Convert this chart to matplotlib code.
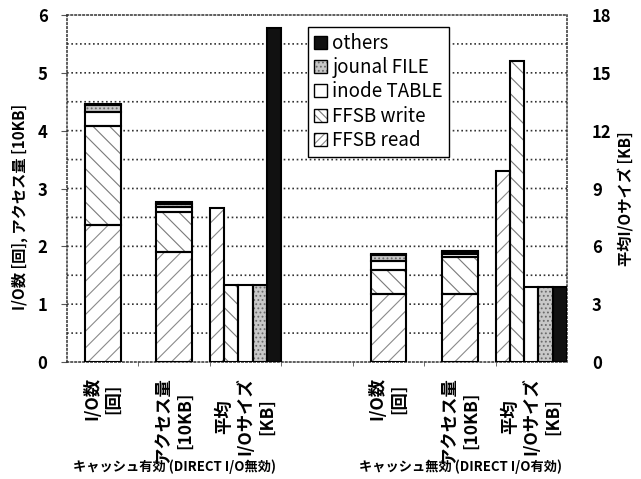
#!/usr/bin/env python3
# -*- coding: utf-8 -*-

"""I/O数, アクセス量 and average I/O size per component,
with and without page cache (DIRECT I/O)"""

import matplotlib
matplotlib.use('Agg')
import numpy as np
import matplotlib.pyplot as plt
from matplotlib.patches import Patch

plt.rcParams['font.family'] = ['Noto Sans CJK JP', 'DejaVu Sans']
plt.rcParams['hatch.linewidth'] = 0.8
plt.rcParams['axes.grid'] = False

# Components, stacked from bottom to top
components = ['FFSB read', 'FFSB write', 'inode TABLE', 'jounal FILE', 'others']

# Category axis: 3 categories per group, one empty slot between groups
categories = ['I/O数\n[回]', 'アクセス量\n[10KB]', '平均\nI/Oサイズ\n[KB]', '',
              'I/O数\n[回]', 'アクセス量\n[10KB]', '平均\nI/Oサイズ\n[KB]']
groups = ['キャッシュ有効 (DIRECT I/O無効)', 'キャッシュ無効 (DIRECT I/O有効)']

# Cache on (DIRECT I/O off)
count_cache_on = [2.37, 1.71, 0.25, 0.11, 0.02]    # [回]
access_cache_on = [1.90, 0.70, 0.08, 0.06, 0.02]   # [10KB]
avgsize_cache_on = [8.0, 4.0, 4.0, 4.0, 17.3]      # [KB]

# Cache off (DIRECT I/O on)
count_cache_off = [1.18, 0.41, 0.16, 0.10, 0.02]
access_cache_off = [1.17, 0.65, 0.04, 0.04, 0.02]
avgsize_cache_off = [9.9, 15.6, 3.9, 3.9, 3.9]

# Fill style per component: (face, hatch, hatch colour)
styles = {
    'FFSB read': ('white', '//', '#8a8a8a'),
    'FFSB write': ('white', '\\\\', '#7a7a7a'),
    'inode TABLE': ('white', '', 'black'),
    'jounal FILE': ('#c8c8c8', '....', '#6a6a6a'),
    'others': ('#111111', '', '#111111'),
}

DOT = (0, (1.0, 1.6))
GRID_COLOR = '#333333'


def draw_bar(ax, x, h, bottom, width, comp):
    """Bar with grey hatch and black outline"""
    face, hatch, hcol = styles[comp]
    ax.bar(x, h, width, bottom=bottom, color=face, hatch=hatch,
           edgecolor=hcol, linewidth=0, zorder=3)
    ax.bar(x, h, width, bottom=bottom, fill=False,
           edgecolor='black', linewidth=1.5, zorder=4)


def legend_handle(comp):
    """Small swatch for the legend, hatch a bit denser to show in the box"""
    face, hatch, hcol = styles[comp]
    if hatch in ('//', '\\\\'):
        hatch = hatch * 2
    fill = Patch(facecolor=face, hatch=hatch, edgecolor=hcol, linewidth=0)
    outline = Patch(fill=False, edgecolor='black', linewidth=1.0)
    return (fill, outline)


def main():
    """Core logic"""

    fig = plt.figure(figsize=(6.41, 4.79), dpi=100)
    ax = fig.add_axes([67 / 641, 1 - 362 / 479, 500 / 641, 347 / 479])
    ax2 = ax.twinx()   # only holds the average size bars and the legend

    # Stacked bars on the left scale
    for x, vals in [(0, count_cache_on), (1, access_cache_on),
                    (4, count_cache_off), (5, access_cache_off)]:
        bottom = 0
        for comp, v in zip(components, vals):
            draw_bar(ax, x, v, bottom, 0.5, comp)
            bottom += v

    # Average I/O size on the right scale, one thin bar per component
    for x, vals in [(2, avgsize_cache_on), (6, avgsize_cache_off)]:
        for n, (comp, v) in enumerate(zip(components, vals)):
            draw_bar(ax2, x - 0.4 + 0.2 * n, v, 0, 0.2, comp)

    ax.set_xlim(-0.5, 6.5)
    ax.set_ylim(0, 6)
    ax2.set_ylim(0, 18)
    ax2.set_axis_off()
    ax.set_yticks(range(0, 7))
    ax.yaxis.grid(False)

    # Right hand scale shown through a secondary axis (3x the left one)
    sec = ax.secondary_yaxis('right', functions=(lambda y: y * 3, lambda y: y / 3))
    sec.set_yticks(range(0, 19, 3))
    sec.tick_params(axis='y', length=0, pad=18, labelsize=12)
    sec.spines['right'].set_visible(False)

    # Dotted horizontal grid every half unit of the left scale
    levels = np.arange(0.5, 6, 0.5)
    ax.hlines(levels, -0.5, 6.5, colors=GRID_COLOR, linestyles=[DOT],
              linewidths=1.2, zorder=2.6, snap=False, antialiased=True)

    ax.set_xticks(range(len(categories)))
    ax.set_xticklabels(categories, rotation=90, va='top', ha='center',
                       multialignment='center', fontsize=12.5, weight='bold',
                       linespacing=1.25)
    ax.set_xticks([i + 0.5 for i in range(6)], minor=True)
    ax.tick_params(axis='x', which='major', length=0, pad=11)
    ax.tick_params(axis='x', which='minor', length=3, color='#555555')
    ax.tick_params(axis='y', which='major', length=4, color='#555555', pad=10,
                   labelsize=12)
    for lab in ax.get_yticklabels() + sec.get_yticklabels():
        lab.set_fontweight('bold')

    for sp in ax.spines.values():
        sp.set_color(GRID_COLOR)
        sp.set_linestyle(DOT)
        sp.set_linewidth(1.1)

    ax.set_ylabel('I/O数 [回], アクセス量 [10KB]', fontsize=11, weight='bold')
    ax.yaxis.set_label_coords(-0.078, 0.447)
    ax.text(1.104, 0.47, '平均I/Oサイズ [KB]', transform=ax.transAxes,
            rotation=90, rotation_mode='anchor', ha='center', va='top',
            fontsize=11, weight='bold')

    # Group names under the category labels
    fig.text(174 / 641, 1 - 467 / 479, groups[0], ha='center', va='center',
             fontsize=9.5, weight='bold')
    fig.text(460 / 641, 1 - 467 / 479, groups[1], ha='center', va='center',
             fontsize=9.5, weight='bold')

    order = list(reversed(components))
    leg = ax2.legend([legend_handle(c) for c in order], order,
                     loc='upper left', bbox_to_anchor=(308 / 641, 1 - 27 / 479),
                     bbox_transform=fig.transFigure, borderaxespad=0,
                     fontsize=13.5, fancybox=False, framealpha=1,
                     edgecolor='black', handlelength=0.7, handleheight=0.7,
                     handletextpad=0.3, labelspacing=0.18, borderpad=0.3)
    leg.get_frame().set_linewidth(1.0)
    leg.set_zorder(10)

    fig.savefig('out.png', dpi=100)


if __name__ == "__main__":
    main()
